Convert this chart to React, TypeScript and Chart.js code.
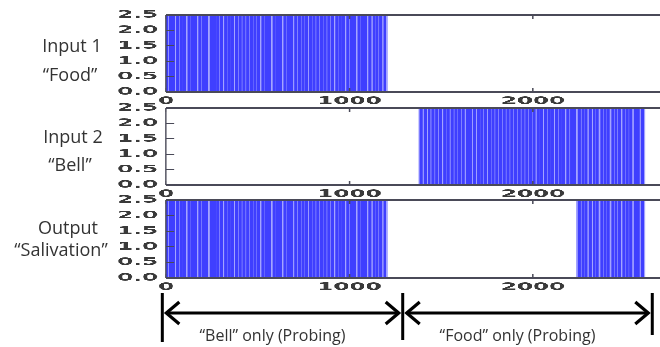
import React, { useEffect, useRef, useState } from "react";
import { Chart, registerables } from "chart.js";

Chart.register(...registerables);

// ---------- data ----------
const timeRange = [0, 2700];
const xTicks = [0, 1000, 2000];
const yTicks = [0, 0.5, 1.0, 1.5, 2.0, 2.5];
const spikeHeight = 2.5;

const foodSpikes = [
  3, 24, 41, 63, 82, 101, 125, 143, 160, 184, 203, 221, 246, 265, 283, 302, 327, 345, 362, 386,
  405, 424, 447, 466, 484, 505, 528, 546, 565, 589, 607, 625, 648, 667, 686, 707, 729, 748, 766, 790,
  808, 827, 850, 868, 887, 909, 931, 949, 968, 991, 1010, 1028, 1052, 1070, 1089, 1111, 1133, 1151, 1170, 1192,
];
const bellSpikes = [
  1392, 1413, 1435, 1455, 1474, 1497, 1518, 1536, 1560, 1579, 1598, 1620, 1641, 1660, 1681, 1703, 1722, 1741, 1764, 1783,
  1802, 1825, 1844, 1863, 1886, 1905, 1924, 1947, 1966, 1985, 2007, 2028, 2046, 2069, 2088, 2106, 2129, 2148, 2167, 2190,
  2209, 2228, 2252, 2271, 2290, 2312, 2333, 2351, 2374, 2393, 2411, 2434, 2453, 2472, 2494, 2515, 2533, 2556, 2575, 2596,
];
const salivationSpikes = [
  3, 24, 41, 63, 82, 101, 125, 143, 160, 184, 203, 221, 246, 265, 283, 302, 327, 345, 362, 386,
  405, 424, 447, 466, 484, 505, 528, 546, 565, 589, 607, 625, 648, 667, 686, 707, 729, 748, 766, 790,
  808, 827, 850, 868, 887, 909, 931, 949, 968, 991, 1010, 1028, 1052, 1070, 1089, 1111, 1133, 1151, 1170, 1192,
  2252, 2271, 2290, 2312, 2333, 2351, 2374, 2393, 2411, 2434, 2453, 2472, 2494, 2515, 2533, 2556, 2575, 2596,
];
const panelTitles = [
  ["Input 1", "\u201CFood\u201D"],
  ["Input 2", "\u201CBell\u201D"],
  ["Output", "\u201CSalivation\u201D"],
];
const phaseLabels = ["\u201CBell\u201D only (Probing)", "\u201CFood\u201D only (Probing)"];
const phaseBounds = [-20, 1290, 2650];

// ---------- layout ----------
const S = 2.2; // horizontal stretch of the plot images
const CW = 310; // canvas css width before stretch
const PLOT_LEFT = 75.45;
const PLOT_RIGHT = 300.66;

const panelBoxes = [
  { top: 0, height: 110, areaTop: 15, areaBottom: 92 },
  { top: 95, height: 110, areaTop: 13, areaBottom: 90 },
  { top: 187, height: 110, areaTop: 13, areaBottom: 91 },
];
const titleLayout = [
  [{ cx: 72, top: 36 }, { cx: 70, top: 65 }],
  [{ cx: 73, top: 127 }, { cx: 70, top: 155 }],
  [{ cx: 68, top: 218 }, { cx: 61, top: 240 }],
];

const tickFont = { family: "'DejaVu Sans', sans-serif", size: 10.5, weight: "bold" as const };
const tickColor = "#3a3a3a";
const spikeColor = "#3f3fff";
const spikeHaloColor = "#a4a4ff";
const frameColor = "#4a4a58";

const framePlugin = {
  id: "frame",
  beforeDraw(chart: any) {
    const { ctx, chartArea: a } = chart;
    ctx.save();
    ctx.fillStyle = "#ffffff";
    ctx.fillRect(a.left, a.top, a.right - a.left, a.bottom - a.top);
    ctx.restore();
  },
  afterDatasetsDraw(chart: any) {
    const { ctx, chartArea: a, scales } = chart;
    const right = a.right + 10;
    ctx.save();
    ctx.strokeStyle = frameColor;
    ctx.lineWidth = 1.6;
    ctx.beginPath();
    ctx.moveTo(a.left, a.top);
    ctx.lineTo(right, a.top);
    ctx.moveTo(a.left, a.bottom);
    ctx.lineTo(right, a.bottom);
    ctx.stroke();
    ctx.lineWidth = 0.8;
    ctx.beginPath();
    ctx.moveTo(a.left, a.top);
    ctx.lineTo(a.left, a.bottom);
    ctx.stroke();
    ctx.lineWidth = 1;
    ctx.beginPath();
    for (const v of yTicks) {
      const y = scales.y.getPixelForValue(v);
      ctx.moveTo(a.left, y);
      ctx.lineTo(a.left + 3.6, y);
    }
    ctx.stroke();
    ctx.lineWidth = 0.5;
    ctx.beginPath();
    for (const v of xTicks) {
      const x = scales.x.getPixelForValue(v);
      ctx.moveTo(x, a.bottom);
      ctx.lineTo(x, a.bottom - 4);
      ctx.moveTo(x, a.top);
      ctx.lineTo(x, a.top + 4);
    }
    ctx.stroke();
    ctx.restore();
  },
};

function makeConfig(spikes: number[], box: { height: number; areaTop: number; areaBottom: number }): any {
  const data: { x: number; y: number }[] = [{ x: timeRange[0], y: 0 }];
  for (const t of spikes) {
    data.push({ x: t, y: 0 }, { x: t, y: spikeHeight }, { x: t, y: 0 });
  }
  data.push({ x: timeRange[1], y: 0 });
  const haloData: { x: number; y: number | null }[] = [];
  for (const t of spikes) {
    haloData.push({ x: t, y: 0 }, { x: t, y: spikeHeight }, { x: t, y: null });
  }
  return {
    type: "line",
    data: {
      datasets: [
        {
          data,
          order: 0,
          borderColor: spikeColor,
          borderWidth: 1.38,
          pointRadius: 0,
          tension: 0,
          fill: false,
        },
        {
          data: haloData,
          order: 1,
          borderColor: spikeHaloColor,
          borderWidth: 2.8,
          borderCapStyle: "butt",
          pointRadius: 0,
          tension: 0,
          fill: false,
          spanGaps: false,
        },
      ],
    },
    options: {
      animation: false,
      responsive: false,
      devicePixelRatio: 3,
      events: [],
      layout: { padding: { left: 0, right: CW - PLOT_RIGHT, top: box.areaTop, bottom: 0 } },
      plugins: { legend: { display: false }, tooltip: { enabled: false } },
      scales: {
        x: {
          type: "linear",
          min: timeRange[0],
          max: timeRange[1],
          afterBuildTicks: (s: any) => {
            s.ticks = xTicks.map((v) => ({ value: v }));
          },
          afterFit: (s: any) => {
            s.height = box.height - box.areaBottom;
          },
          grid: { display: false, drawTicks: false },
          border: { display: false },
          ticks: {
            font: tickFont,
            color: tickColor,
            padding: 3,
            maxRotation: 0,
            autoSkip: false,
            callback: (v: any) => String(v),
          },
        },
        y: {
          type: "linear",
          min: 0,
          max: spikeHeight,
          afterBuildTicks: (s: any) => {
            s.ticks = yTicks.map((v) => ({ value: v }));
          },
          afterFit: (s: any) => {
            s.width = PLOT_LEFT;
          },
          grid: { display: false, drawTicks: false },
          border: { display: false },
          ticks: {
            font: tickFont,
            color: tickColor,
            padding: 3.6,
            autoSkip: false,
            callback: (v: any) => Number(v).toFixed(1),
          },
        },
      },
    },
    plugins: [framePlugin],
  };
}

const seriesList = [foodSpikes, bellSpikes, salivationSpikes];

export default function App() {
  const r0 = useRef<HTMLCanvasElement>(null);
  const r1 = useRef<HTMLCanvasElement>(null);
  const r2 = useRef<HTMLCanvasElement>(null);
  const refs = [r0, r1, r2];
  const [bx, setBx] = useState<number[] | null>(null);

  useEffect(() => {
    document.body.style.margin = "0";
    const charts = seriesList.map((sp, i) => new Chart(refs[i].current as HTMLCanvasElement, makeConfig(sp, panelBoxes[i])));
    const xs = charts[2].scales.x;
    setBx(phaseBounds.map((v) => xs.getPixelForValue(v) * S));
    return () => charts.forEach((c) => c.destroy());
  }, []);

  const labelFont = "'Open Sans', 'Liberation Sans', sans-serif";
  const arrowY = 313;
  const barBottoms = [342, 340, 335];

  return (
    <div
      style={{
        position: "fixed",
        left: 0,
        top: 0,
        width: 660,
        height: 347,
        overflow: "hidden",
        background: "#ffffff",
      }}
    >
      <div
        style={{
          position: "absolute",
          left: 0,
          top: 0,
          width: CW,
          height: 347,
          transform: `scaleX(${S})`,
          transformOrigin: "0 0",
        }}
      >
        {panelBoxes.map((b, i) => (
          <canvas
            key={i}
            ref={refs[i]}
            width={CW}
            height={b.height}
            style={{ position: "absolute", left: 0, top: b.top }}
          />
        ))}
      </div>
      {panelTitles.map((lines, i) =>
        lines.map((t, j) => (
          <div
            key={`${i}-${j}`}
            style={{
              position: "absolute",
              left: titleLayout[i][j].cx - 80,
              width: 160,
              top: titleLayout[i][j].top,
              textAlign: "center",
              fontFamily: labelFont,
              fontSize: 18,
              lineHeight: "18px",
              color: "#333333",
              whiteSpace: "nowrap",
            }}
          >
            {t}
          </div>
        ))
      )}
      {bx && (
        <svg width={660} height={347} style={{ position: "absolute", left: 0, top: 0 }}>
          {bx.map((x, i) => (
            <line key={i} x1={x} y1={293} x2={x} y2={barBottoms[i]} stroke="#000" strokeWidth={3} />
          ))}
          {[0, 1].map((k) => {
            const x1 = bx[k] + 3;
            const x2 = bx[k + 1] - 3;
            return (
              <g key={k} stroke="#000" strokeWidth={3.2} fill="none" strokeLinejoin="miter">
                <line x1={x1 + 1} y1={arrowY} x2={x2 - 1} y2={arrowY} />
                <polyline points={`${x1 + 14},${arrowY - 11} ${x1 + 1},${arrowY} ${x1 + 14},${arrowY + 11}`} />
                <polyline points={`${x2 - 14},${arrowY - 11} ${x2 - 1},${arrowY} ${x2 - 14},${arrowY + 11}`} />
              </g>
            );
          })}
        </svg>
      )}
      {bx &&
        phaseLabels.map((t, k) => (
          <div
            key={k}
            style={{
              position: "absolute",
              left: (bx[k] + bx[k + 1]) / 2 - 10 - 120,
              width: 240,
              top: 327,
              textAlign: "center",
              fontFamily: labelFont,
              fontSize: 16,
              lineHeight: "16px",
              color: "#333333",
              whiteSpace: "nowrap",
            }}
          >
            {t}
          </div>
        ))}
    </div>
  );
}
